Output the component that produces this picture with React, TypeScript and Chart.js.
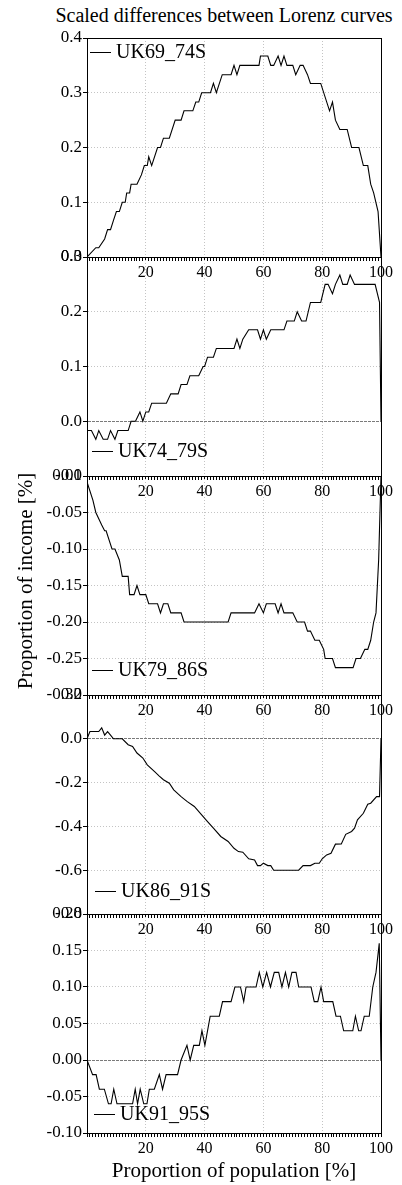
import React, { useEffect, useRef } from "react";
import { Chart, registerables } from "chart.js";

Chart.register(...registerables);

// ---------- data ----------
const CHART_TITLE = "Scaled differences between Lorenz curves";
const X_TITLE = "Proportion of population [%]";
const Y_TITLE = "Proportion of income [%]";
const POPULATION_TICKS = [20, 40, 60, 80, 100];
const SERIES_LABELS = ["UK69_74S", "UK74_79S", "UK79_86S", "UK86_91S", "UK91_95S"];

const UK69_74S_X = [0, 3, 4, 6, 7, 8, 9, 10, 11, 12, 13, 13.5, 14.5, 15, 17, 18.5, 19.5, 20.5, 21, 22, 24, 25, 26, 28, 30, 32, 33, 36, 37, 38, 39, 42, 43, 44, 46, 49, 50, 51, 52, 58.5, 59, 61.5, 62.5, 63.5, 65, 66, 67, 68, 70, 71, 72.5, 73.5, 75, 76, 79.5, 82.5, 83.5, 84.5, 86, 88.5, 90, 92.5, 94, 95.5, 96.5, 97.5, 99, 100];
const UK69_74S_Y = [0, 0.017, 0.017, 0.033, 0.05, 0.05, 0.067, 0.083, 0.083, 0.1, 0.1, 0.117, 0.117, 0.133, 0.133, 0.15, 0.167, 0.167, 0.183, 0.167, 0.2, 0.2, 0.217, 0.217, 0.25, 0.25, 0.267, 0.267, 0.283, 0.283, 0.3, 0.3, 0.317, 0.3, 0.333, 0.333, 0.35, 0.333, 0.35, 0.35, 0.367, 0.367, 0.35, 0.35, 0.367, 0.35, 0.367, 0.35, 0.35, 0.333, 0.35, 0.35, 0.333, 0.317, 0.317, 0.267, 0.283, 0.25, 0.233, 0.233, 0.2, 0.2, 0.167, 0.167, 0.133, 0.117, 0.083, 0];

const UK74_79S_X = [0, 1.5, 3, 4, 5.5, 7, 8, 9.5, 10.5, 14, 15, 16.5, 18, 19, 20, 21, 22, 27, 28.5, 31, 32, 34, 35, 38, 39.5, 40, 41, 43, 44, 50, 51, 52, 53, 55, 58, 59, 60, 61, 62.5, 67, 68, 70.5, 71.5, 73, 74.5, 76, 79.5, 81, 82, 83.5, 84.5, 86, 87, 88.5, 89.5, 91, 98, 99.5, 100];
const UK74_79S_Y = [-0.017, -0.017, -0.033, -0.017, -0.033, -0.033, -0.017, -0.033, -0.017, -0.017, 0, 0, 0.017, 0, 0.017, 0.017, 0.033, 0.033, 0.05, 0.05, 0.067, 0.067, 0.083, 0.083, 0.1, 0.1, 0.117, 0.117, 0.133, 0.133, 0.15, 0.133, 0.15, 0.167, 0.167, 0.15, 0.167, 0.15, 0.167, 0.167, 0.183, 0.183, 0.2, 0.183, 0.183, 0.217, 0.217, 0.25, 0.25, 0.233, 0.25, 0.267, 0.25, 0.25, 0.267, 0.25, 0.25, 0.217, 0];

const UK79_86S_X = [0, 2, 3, 5, 6, 6.5, 8.5, 9.5, 11, 12, 14, 14.5, 16, 17, 18, 20, 21, 24, 25, 26, 27.5, 28.5, 32, 33, 48, 49, 57, 58.5, 60, 61, 64, 65, 66, 67, 70, 71.5, 74, 75, 76, 77.5, 79, 80.5, 81, 83.5, 84.5, 90.5, 91.5, 93, 94.5, 95.5, 96.5, 97.5, 98.3, 99.2, 100];
const UK79_86S_Y = [-0.008, -0.033, -0.05, -0.067, -0.075, -0.075, -0.1, -0.1, -0.115, -0.1375, -0.1375, -0.1625, -0.1625, -0.15, -0.1625, -0.1625, -0.175, -0.175, -0.1875, -0.175, -0.175, -0.1875, -0.1875, -0.2, -0.2, -0.1875, -0.1875, -0.175, -0.1875, -0.175, -0.175, -0.1875, -0.175, -0.1875, -0.1875, -0.2, -0.2, -0.2125, -0.2125, -0.225, -0.225, -0.2375, -0.25, -0.25, -0.2625, -0.2625, -0.25, -0.25, -0.2375, -0.2375, -0.225, -0.2, -0.1875, -0.115, 0];

const UK86_91S_X = [0, 1, 4, 5, 6, 7, 8, 9, 12, 14, 15.5, 17, 19, 20.5, 23, 24.5, 26, 28, 29.5, 32, 34, 36.5, 39, 41, 43, 45.5, 48, 50, 51.5, 53, 55, 57, 58, 59, 60, 61.5, 62.5, 63.5, 72, 73.5, 76, 77.5, 79, 80, 81.5, 83, 84.5, 86.5, 88, 90, 91, 92, 94, 95.5, 96.5, 98.5, 99.5, 100];
const UK86_91S_Y = [0, 0.033, 0.033, 0.05, 0.017, 0.033, 0.017, 0, 0, -0.027, -0.035, -0.065, -0.088, -0.119, -0.15, -0.169, -0.187, -0.203, -0.233, -0.264, -0.286, -0.309, -0.347, -0.378, -0.408, -0.446, -0.469, -0.5, -0.515, -0.518, -0.548, -0.553, -0.579, -0.579, -0.568, -0.579, -0.579, -0.6, -0.6, -0.579, -0.579, -0.568, -0.568, -0.548, -0.53, -0.523, -0.481, -0.48, -0.436, -0.423, -0.408, -0.37, -0.34, -0.299, -0.294, -0.264, -0.264, 0];

const UK91_95S_X = [0, 1.9, 3.1, 4.2, 5.9, 7.3, 8.2, 9.1, 10.2, 15.5, 16.4, 17.2, 18.1, 19.3, 20.4, 21.2, 22.9, 24.6, 25.7, 26.9, 30.8, 32, 34, 35.1, 36.3, 38.2, 39.1, 40.1, 41.9, 45, 46.1, 49, 50.3, 52.2, 53.3, 54.1, 57.5, 58.6, 59.8, 61.1, 62.4, 63.7, 65.2, 66.3, 67.5, 68.6, 69.7, 71.1, 72, 76.2, 77.3, 78.5, 79.6, 80.5, 83.6, 84.7, 86.2, 87.3, 90.4, 91.3, 92.4, 93.2, 94.3, 96, 97.2, 98.3, 99.4, 100];
const UK91_95S_Y = [0, -0.02, -0.02, -0.04, -0.04, -0.06, -0.06, -0.04, -0.06, -0.06, -0.04, -0.06, -0.04, -0.06, -0.06, -0.04, -0.04, -0.02, -0.04, -0.02, -0.02, 0, 0.02, 0, 0.02, 0.02, 0.04, 0.02, 0.06, 0.06, 0.08, 0.08, 0.1, 0.1, 0.08, 0.1, 0.1, 0.12, 0.1, 0.12, 0.1, 0.12, 0.12, 0.1, 0.12, 0.1, 0.12, 0.12, 0.1, 0.1, 0.08, 0.08, 0.1, 0.08, 0.08, 0.06, 0.06, 0.04, 0.04, 0.06, 0.04, 0.04, 0.06, 0.06, 0.1, 0.12, 0.16, 0];

const SERIES_X = [UK69_74S_X, UK74_79S_X, UK79_86S_X, UK86_91S_X, UK91_95S_X];
const SERIES_Y = [UK69_74S_Y, UK74_79S_Y, UK79_86S_Y, UK86_91S_Y, UK91_95S_Y];

const Y_MIN = [0, -0.1, -0.3, -0.8, -0.1];
const Y_MAX = [0.4, 0.3, 0, 0.2, 0.2];
const Y_STEP = [0.1, 0.1, 0.05, 0.2, 0.05];
const Y_DECIMALS = [1, 1, 2, 1, 2];

// ---------- layout / style ----------
const W = 402;
const PANEL_TOP0 = 38;
const PANEL_H = 219;
const PLOT_LEFT = 87;
const PLOT_RIGHT = 381;
const PAD_T = 20;
const PAD_B = 40;
const CANVAS_H = PAD_T + PANEL_H + PAD_B;
const LEGEND_POS = [
  { x: 90, y: 52 },
  { x: 92, y: 451 },
  { x: 92, y: 670 },
  { x: 95, y: 891 },
  { x: 94, y: 1114 },
];
const SERIF = "'Liberation Serif', 'Times New Roman', serif";
const GRID_COLOR = "#c4c4c4";
const ZERO_COLOR = "#7a7a7a";

const isZero = (v: number) => Math.abs(v) < 1e-9;

const framePlugin = {
  id: "frame",
  afterDatasetsDraw(chart: any) {
    const { ctx, chartArea } = chart;
    const { left, top, right, bottom } = chartArea;
    ctx.save();
    ctx.strokeStyle = "#000";
    ctx.lineWidth = 1;
    ctx.strokeRect(left + 0.5, top + 0.5, right - left, bottom - top);
    ctx.restore();
  },
};

const inlineLegendPlugin = {
  id: "inlineLegend",
  afterDatasetsDraw(chart: any, _args: any, opts: any) {
    const ds = chart.data.datasets[0];
    const { ctx } = chart;
    const x = opts.x;
    const y = opts.y;
    ctx.save();
    ctx.strokeStyle = ds.borderColor;
    ctx.lineWidth = 1;
    ctx.beginPath();
    ctx.moveTo(x, Math.round(y) + 0.5);
    ctx.lineTo(x + 21, Math.round(y) + 0.5);
    ctx.stroke();
    ctx.fillStyle = "#000";
    ctx.font = `20px ${SERIF}`;
    ctx.textBaseline = "middle";
    ctx.textAlign = "left";
    ctx.fillText(ds.label, x + 26, y + 1);
    ctx.restore();
  },
};

function Panel({ index }: { index: number }) {
  const ref = useRef<HTMLCanvasElement | null>(null);
  const panelTop = PANEL_TOP0 + index * PANEL_H;
  const canvasTop = panelTop - PAD_T;

  useEffect(() => {
    if (!ref.current) return;
    const xs = SERIES_X[index];
    const ys = SERIES_Y[index];
    const dec = Y_DECIMALS[index];
    const chart = new Chart(ref.current, {
      type: "line",
      data: {
        datasets: [
          {
            label: SERIES_LABELS[index],
            data: xs.map((x, i) => ({ x, y: ys[i] })),
            borderColor: "#000",
            borderWidth: 1.1,
            pointRadius: 0,
            tension: 0,
            fill: false,
          },
        ],
      },
      options: {
        animation: false,
        responsive: false,
        devicePixelRatio: 1,
        layout: { padding: { top: PAD_T, left: 0, right: W - PLOT_RIGHT, bottom: 0 } },
        plugins: {
          legend: { display: false },
          title: { display: false },
          tooltip: { enabled: false },
          inlineLegend: { x: LEGEND_POS[index].x, y: LEGEND_POS[index].y - canvasTop },
        } as any,
        scales: {
          x: {
            type: "linear",
            min: 0,
            max: 100,
            afterFit: (s: any) => {
              s.height = PAD_B;
            },
            ticks: {
              stepSize: 1,
              autoSkip: false,
              maxRotation: 0,
              minRotation: 0,
              padding: 2,
              color: "#000",
              font: { family: SERIF, size: 16 },
              callback: (v: any) => {
                const r = Math.round(Number(v));
                return Math.abs(Number(v) - r) < 1e-6 && POPULATION_TICKS.includes(r) ? String(r) : "";
              },
            },
            grid: {
              color: (c: any) => {
                if (!c.tick) return GRID_COLOR;
                const r = Math.round(c.tick.value);
                return r % 20 === 0 && r > 0 && r < 100 && Math.abs(c.tick.value - r) < 1e-6
                  ? GRID_COLOR
                  : "rgba(0,0,0,0)";
              },
              lineWidth: 1,
              tickLength: 4,
              tickColor: "#000",
              tickWidth: 1,
            },
            border: { display: true, color: "#000", width: 1, dash: [1, 2] },
          },
          y: {
            type: "linear",
            min: Y_MIN[index],
            max: Y_MAX[index],
            afterFit: (s: any) => {
              s.width = PLOT_LEFT;
            },
            ticks: {
              stepSize: Y_STEP[index],
              autoSkip: false,
              padding: 1,
              color: "#000",
              font: { family: SERIF, size: 17 },
              callback: (v: any) => {
                const n = Number(v);
                return (isZero(n) ? 0 : n).toFixed(dec);
              },
            },
            grid: {
              color: (c: any) => (c.tick && isZero(c.tick.value) ? ZERO_COLOR : GRID_COLOR),
              lineWidth: 1,
              tickLength: 4,
              tickColor: "#000",
              tickWidth: 1,
            },
            border: {
              display: true,
              color: "#000",
              width: 1,
              dash: (c: any) => (c && c.tick && isZero(c.tick.value) ? [3, 1] : [1, 2]),
            },
          },
        },
      } as any,
      plugins: [framePlugin, inlineLegendPlugin],
    });
    return () => chart.destroy();
  }, [index]);

  return (
    <canvas
      ref={ref}
      width={W}
      height={CANVAS_H}
      style={{ position: "absolute", left: 0, top: canvasTop, width: W, height: CANVAS_H }}
    />
  );
}

export default function App() {
  return (
    <div
      style={{
        position: "absolute",
        left: 0,
        top: 0,
        width: W,
        height: 1185,
        background: "#fff",
        overflow: "hidden",
        fontFamily: SERIF,
        color: "#000",
      }}
    >
      <div
        style={{
          position: "absolute",
          left: 24,
          top: 3,
          width: 400,
          height: 24,
          lineHeight: "24px",
          fontSize: 20,
          textAlign: "center",
          whiteSpace: "nowrap",
        }}
      >
        {CHART_TITLE}
      </div>
      {[0, 1, 2, 3, 4].map((i) => (
        <Panel key={i} index={i} />
      ))}
      <div
        style={{
          position: "absolute",
          left: 25 - 200,
          top: 581 - 12,
          width: 400,
          height: 24,
          lineHeight: "24px",
          fontSize: 21,
          textAlign: "center",
          whiteSpace: "nowrap",
          transform: "rotate(-90deg)",
        }}
      >
        {Y_TITLE}
      </div>
      <div
        style={{
          position: "absolute",
          left: 234 - 150,
          top: 1158,
          width: 300,
          height: 24,
          lineHeight: "24px",
          fontSize: 21,
          textAlign: "center",
          whiteSpace: "nowrap",
        }}
      >
        {X_TITLE}
      </div>
    </div>
  );
}
